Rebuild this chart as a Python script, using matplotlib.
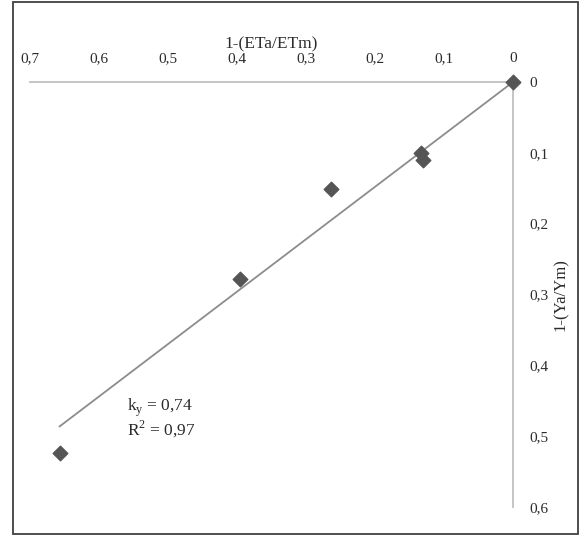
import numpy as np
import matplotlib
matplotlib.use('Agg')
import matplotlib.pyplot as plt
from matplotlib.ticker import FuncFormatter
from matplotlib.patches import Rectangle

# 数据：1-(ETa/ETm) 与 1-(Ya/Ym)
x_eta = [0.0, 0.133, 0.130, 0.264, 0.396, 0.657]
y_ya = [0.0, 0.100, 0.110, 0.151, 0.278, 0.524]
ky = 0.74
r2 = 0.97
x_ticks = [0.7, 0.6, 0.5, 0.4, 0.3, 0.2, 0.1, 0.0]
y_ticks = [0.0, 0.1, 0.2, 0.3, 0.4, 0.5, 0.6]

plt.rcParams['font.family'] = ['Liberation Serif', 'DejaVu Serif']

W, H = 583, 538
fig = plt.figure(figsize=(W / 100, H / 100), dpi=100)

# 坐标轴位置（像素换算）
left, right, top, bottom = 30, 513, 82, 507
ax = fig.add_axes([left / W, 1 - bottom / H, (right - left) / W, (bottom - top) / H])

ax.set_xlim(0.7, 0)
ax.set_ylim(0.6, 0)

for s in ['left', 'bottom']:
    ax.spines[s].set_visible(False)
for s in ['top', 'right']:
    ax.spines[s].set_color('#c0c0c0')
    ax.spines[s].set_linewidth(1.3)

ax.xaxis.tick_top()
ax.xaxis.set_label_position('top')
ax.yaxis.tick_right()
ax.yaxis.set_label_position('right')

txt_c = '#2b2b2b'
comma = FuncFormatter(lambda v, p: ('%g' % round(v, 2)).replace('.', ','))
ax.set_xticks(x_ticks)
ax.set_yticks(y_ticks)
ax.xaxis.set_major_formatter(comma)
ax.yaxis.set_major_formatter(comma)
ax.tick_params(axis='x', length=0, pad=12, labelsize=11, labelcolor=txt_c)
ax.tick_params(axis='y', length=0, pad=12, labelsize=11, labelcolor=txt_c)

ax.set_xlabel('1-(ETa/ETm)', fontsize=12.5, color=txt_c, labelpad=3)
ax.set_ylabel('1-(Ya/Ym)', fontsize=12, color=txt_c, rotation=90,
              labelpad=3)

# 趋势线 y = ky * x
xl = np.array([0.0, max(x_eta)])
ax.plot(xl, ky * xl, color='#8c8c8c', linewidth=1.3, zorder=2)

ax.scatter(x_eta, y_ya, marker='D', s=55, color='#555555', edgecolors='#555555',
           zorder=3, clip_on=False)

ax.text(0.559, 0.46, 'k$_\\mathregular{y}$ = 0,74', fontsize=12.5, color=txt_c,
        ha='left', va='center')
ax.text(0.559, 0.49, 'R$^\\mathregular{2}$ = 0,97', fontsize=12.5, color=txt_c,
        ha='left', va='center')

# 外框
fig.patches.append(Rectangle((13 / W, 1 - 534 / H), (578 - 13) / W, (534 - 2) / H,
                             transform=fig.transFigure, fill=False,
                             edgecolor='#404040', linewidth=1.3))

fig.savefig('out.png', dpi=100)
